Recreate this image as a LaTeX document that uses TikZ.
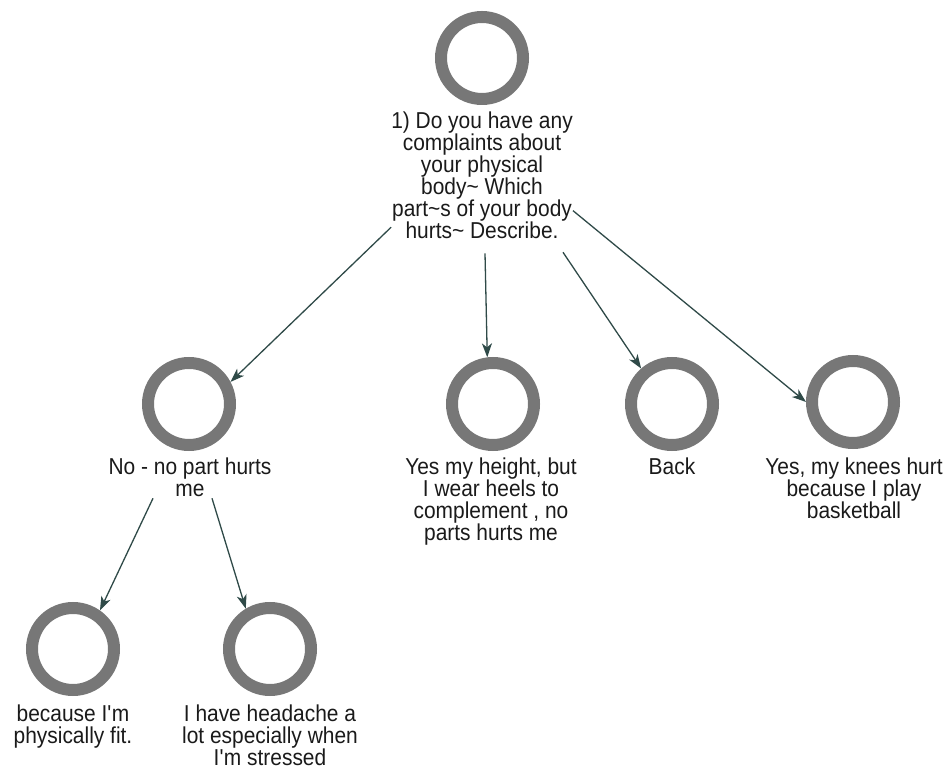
\documentclass[tikz,border=0pt]{standalone}
\usepackage{fontspec}
\setmainfont{Liberation Sans}[FakeStretch=0.91]
\usetikzlibrary{arrows.meta}

\definecolor{ringgray}{HTML}{777777}
\definecolor{linkcol}{HTML}{2F4A48}
\definecolor{inkcol}{HTML}{1A1A1A}

\tikzset{
  ring/.style={circle, draw=ringgray, line width=12pt, minimum size=82pt, inner sep=0pt},
  caption/.style={anchor=north, inner sep=0pt, align=center, text=inkcol,
    font=\fontsize{23}{22}\selectfont},
  link/.style={draw=linkcol, line width=1.3pt,
    -{Stealth[length=14pt,width=10pt,inset=4pt]}}
}

\begin{document}
\begin{tikzpicture}[x=1pt,y=1pt]
  \useasboundingbox (0,0) rectangle (952,771);

  % answer circles
  \node[ring] (top)    at (482,713) {};
  \node[ring] (no)     at (189,367) {};
  \node[ring] (height) at (493,367) {};
  \node[ring] (back)   at (672,367) {};
  \node[ring] (knees)  at (853,369) {};
  \node[ring] (fit)    at (73,122)  {};
  \node[ring] (head)   at (270,122) {};

  % captions under the circles
  \node[caption] (q) at (482,659)
    {1) Do you have any\\complaints about\\your physical\\body\textasciitilde{} Which\\part\textasciitilde s of your body\\hurts\textasciitilde{} Describe.};
  \node[caption] (tno) at (190,313) {No - no part hurts\\me};
  \node[caption] (theight) at (491,313)
    {Yes my height, but\\I wear heels to\\complement , no\\parts hurts me};
  \node[caption] (tback) at (672,313) {Back};
  \node[caption] (tknees) at (854,313)
    {Yes, my knees hurt\\because I play\\basketball};
  \node[caption] (tfit) at (73,66)
    {because I\textquotesingle m\\physically fit.};
  \node[caption] (thead) at (270,66)
    {I have headache a\\lot especially when\\I\textquotesingle m stressed};

  % connectors
  \draw[link] ([yshift=12pt]q.south west) -- (no.28);
  \draw[link] ([xshift=3pt,yshift=-14pt]q.south) -- (height.97);
  \draw[link] ([xshift=81pt,yshift=-13pt]q.south) -- (back.131);
  \draw[link] ([yshift=-35pt]q.east) -- (knees.west);
  \draw[link] ([xshift=-37pt,yshift=-1pt]tno.south) -- (fit.55);
  \draw[link] ([xshift=22pt,yshift=-1pt]tno.south) -- (head.121);
\end{tikzpicture}
\end{document}
